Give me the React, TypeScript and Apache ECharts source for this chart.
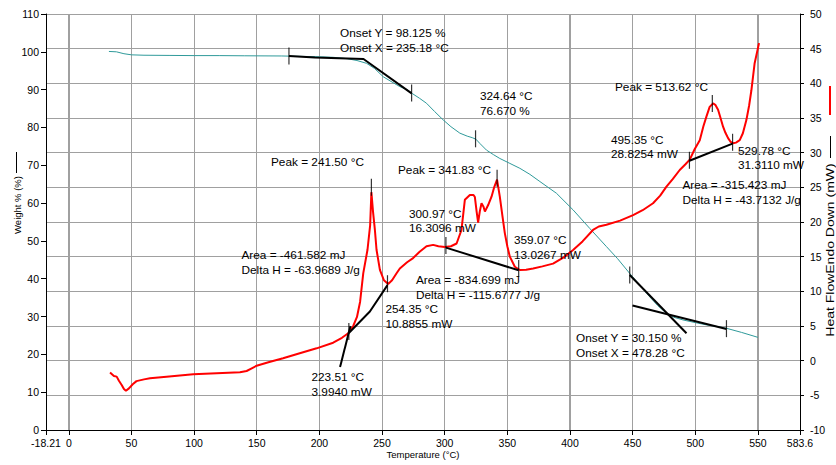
import React, { useEffect, useRef } from "react";
import * as echarts from "echarts";

// Axis settings
const xMin = -18.21;
const xMax = 583.6;
const xGridValues = [0, 50, 100, 150, 200, 250, 300, 350, 400, 450, 500, 550];
const weightRange = [0, 110];

// TGA: temperature (°C), weight (%)
const tgaData: number[][] = [
  [32, 100.1], [38, 100.0], [44, 99.5], [50, 99.2], [60, 99.1], [80, 99.05], [100, 99.0], [120, 99.0],
  [140, 98.95], [170, 98.9], [200, 98.7], [211, 98.55], [222, 98.2], [230, 97.7], [237.7, 96.95],
  [244, 95.6], [251, 93.4], [258, 92.0], [264.2, 90.8], [270, 90.0], [274, 89.0], [280, 87.7],
  [285.5, 86.4], [292, 84.2], [298.8, 82.0], [305, 80.2], [312.1, 78.5], [318, 77.7], [322, 77.3],
  [324.9, 76.9], [328, 75.8], [333.4, 74.0], [339, 72.8], [344, 71.8], [352, 70.5], [360, 69.2],
  [368, 67.6], [376, 65.7], [389.2, 62.6], [402.5, 58.2], [415.8, 53.3], [429.1, 48.5], [438, 45.3],
  [447.7, 41.4], [456, 38.2], [463.7, 35.2], [470, 32.9], [477, 30.85], [483, 29.8], [490.2, 29.1],
  [500, 28.4], [508.9, 27.8], [517, 27.4], [524.9, 26.9], [537, 25.8], [550, 24.5],
];

// DSC: temperature (°C), heat flow (mW)
const dscData: number[][] = [
  [32.9, -1.7], [36, -2.2], [38.2, -2.3], [40, -2.9], [42.2, -3.5], [44, -4.1], [45.6, -4.35], [48, -4.0],
  [51, -3.4], [54, -2.95], [60, -2.7], [64.8, -2.54], [78, -2.31], [99.3, -1.97], [118, -1.82],
  [136.6, -1.68], [141.9, -1.49], [146, -1.1], [149.9, -0.73], [160, -0.2], [171, 0.34], [185, 1.1],
  [197.8, 1.78], [211, 2.59], [218, 3.3], [223, 3.95], [227, 5.0], [230, 6.3], [232.5, 8.5],
  [235, 12.6], [238.4, 16], [240.5, 19.5], [241.5, 24.3], [242.8, 21.5], [244.3, 18.85], [245.6, 16],
  [248.3, 13.1], [251.5, 11.6], [254.9, 11.06], [258, 11.6], [261.6, 12.6], [264.2, 13.3], [270, 14.2],
  [274.8, 14.8], [280, 15.7], [285.5, 16.5], [290.8, 16.7], [295, 16.5], [300.1, 16.4], [305, 16.5],
  [309.5, 16.9], [313.4, 18.85], [316.1, 23.2], [320.1, 23.9], [323, 23.9], [324.1, 23.6],
  [325.5, 21.5], [326.7, 19.9], [328, 21.5], [329.4, 22.7], [331, 22.2], [332.1, 21.5], [334.7, 22.45],
  [337.4, 23.65], [339.5, 25], [341.8, 26.1], [344, 23.65], [346, 21], [348, 18.4], [350, 16.5],
  [352, 15], [356, 13.55], [360, 13.08], [365, 13.1], [370.6, 13.3], [378, 13.6], [386.5, 14.0],
  [395, 14.9], [402.5, 15.96], [410, 17.2], [418.4, 18.85], [423, 19.35], [429.1, 19.6], [440, 20.2],
  [450.4, 21.0], [458, 21.7], [466.3, 22.7], [472, 23.8], [477, 25.1], [482, 26.2], [487.6, 27.5],
  [492, 28.3], [495.6, 29.0], [499.5, 30.5], [503.6, 31.8], [506.5, 33.8], [508.9, 35.2], [511.5, 36.6],
  [514.2, 37.1], [516, 36.9], [518.2, 36.2], [520, 35.1], [522.2, 33.75], [524, 32.9], [526.2, 32.1],
  [528, 31.6], [530.1, 31.35], [532.5, 31.45], [535.5, 31.8], [538, 32.8], [540.8, 34.7], [543, 36.8],
  [544.8, 39.0], [547.4, 42.9], [550.9, 45.8],
];

// Analysis constructions (data coordinates)
const tgaOnset1 = [[175.7, 98.9], [196.4, 98.5], [235.2, 98.1], [273.6, 89.0]];
const tgaOnset2A = [[447.7, 41.0], [493.0, 25.6]];
const tgaOnset2B = [[449.9, 32.9], [524.9, 26.7]];
const dscTangent1 = [[216.5, -0.9], [224.8, 5.0]];
const dscBase1 = [[223.51, 3.99], [240.3, 7.1], [254.35, 10.89]];
const dscBase2 = [[300.97, 16.31], [359.07, 13.03]];
const dscBase3 = [[495.35, 28.83], [529.78, 31.31]];
const tgaTicks = [[175.7, 98.9], [273.6, 89.1], [324.64, 77.0], [447.7, 41.0], [524.9, 26.8]];
const dscTicks = [
  [223.51, 4.2], [254.35, 11.1], [241.5, 25.0], [300.97, 16.6], [359.07, 13.3],
  [341.83, 26.3], [495.35, 28.9], [529.78, 31.5], [513.62, 37.1],
];

// Annotation texts
const annotationTexts: string[][] = [
  ["Onset Y = 98.125 %", "Onset X = 235.18 °C"],
  ["324.64 °C", "76.670 %"],
  ["Peak = 341.83 °C"],
  ["300.97 °C", "16.3096 mW"],
  ["359.07 °C", "13.0267 mW"],
  ["Area = -834.699 mJ", "Delta H = -115.6777 J/g"],
  ["Peak = 241.50 °C"],
  ["Area = -461.582 mJ", "Delta H = -63.9689 J/g"],
  ["254.35 °C", "10.8855 mW"],
  ["223.51 °C", "3.9940 mW"],
  ["Peak = 513.62 °C"],
  ["495.35 °C", "28.8254 mW"],
  ["529.78 °C", "31.3110 mW"],
  ["Area = -315.423 mJ", "Delta H = -43.7132 J/g"],
  ["Onset Y = 30.150 %", "Onset X = 478.28 °C"],
];
// Layout (pixel) of each annotation: left x, centre y of first line
const annotationLayout: number[][] = [
  [340, 33], [480, 96], [398, 170], [409, 213.5], [514, 240], [416, 280], [271, 162],
  [241.5, 255], [385.5, 309], [311.5, 377], [615, 87], [611, 139.5], [738, 150.5],
  [682.5, 185], [576, 338],
];

const FONT = '"Liberation Sans", Arial, Helvetica, sans-serif';
const GRID_COLOR = "#a0a0a0";

function blackLine(data: number[][], yAxisIndex: number) {
  return {
    type: "line",
    yAxisIndex,
    data,
    symbol: "none",
    z: 6,
    silent: true,
    lineStyle: { color: "#000", width: 2 },
  };
}

function toNum(v: any): number {
  if (Array.isArray(v)) return Number(v[0]);
  return Number(v);
}

export default function App() {
  const ref = useRef<HTMLDivElement>(null);
  useEffect(() => {
    const chart = echarts.init(ref.current!, null, { renderer: "svg" });
    const labelStyle = { color: "#000", fontSize: 10.5, fontFamily: FONT };
    const staticGraphic: any[] = [
      ...annotationTexts.map((lines, i) => ({
        type: "text",
        x: annotationLayout[i][0],
        y: annotationLayout[i][1] - 7.25,
        z: 10,
        silent: true,
        style: {
          text: lines.join("\n"),
          fill: "#000",
          fontSize: 11.8,
          fontFamily: FONT,
          lineHeight: 14.5,
          align: "left",
          verticalAlign: "top",
        },
      })),
      {
        type: "text",
        x: 17,
        y: 205,
        rotation: Math.PI / 2,
        silent: true,
        style: {
          text: "Weight % (%)",
          fill: "#000",
          fontSize: 9.5,
          fontFamily: FONT,
          align: "center",
          verticalAlign: "middle",
        },
      },
      {
        type: "line",
        silent: true,
        shape: { x1: 16.5, y1: 152, x2: 16.5, y2: 173 },
        style: { stroke: "#000", lineWidth: 1 },
      },
      {
        type: "text",
        x: 831,
        y: 250,
        rotation: Math.PI / 2,
        scaleX: 1.4,
        silent: true,
        style: {
          text: "Heat FlowEndo Down (mW)",
          fill: "#000",
          fontSize: 10,
          fontFamily: FONT,
          align: "center",
          verticalAlign: "middle",
        },
      },
      {
        type: "line",
        silent: true,
        shape: { x1: 830.5, y1: 136, x2: 830.5, y2: 158 },
        style: { stroke: "#000", lineWidth: 1 },
      },
      {
        type: "line",
        silent: true,
        shape: { x1: 830, y1: 86, x2: 830, y2: 115 },
        style: { stroke: "#ff0000", lineWidth: 2 },
      },
      {
        type: "text",
        x: 423,
        y: 454,
        silent: true,
        style: {
          text: "Temperature (°C)",
          fill: "#000",
          fontSize: 9.5,
          fontFamily: FONT,
          align: "center",
          verticalAlign: "middle",
        },
      },
    ];
    const option: any = {
      animation: false,
      backgroundColor: "#fff",
      grid: { left: 46, right: 36, top: 14, bottom: 35, containLabel: false },
      xAxis: {
        type: "value",
        min: xMin,
        max: xMax,
        splitNumber: 12,
        axisLine: { onZero: false, lineStyle: { color: "#000", width: 1 } },
        axisTick: { show: true, length: 5, lineStyle: { color: "#000" } },
        axisLabel: { ...labelStyle, margin: 7, showMinLabel: true, showMaxLabel: true },
        splitLine: { show: true, lineStyle: { color: GRID_COLOR, width: 1, type: "solid" } },
      },
      yAxis: [
        {
          type: "value",
          min: 0,
          max: 110,
          interval: 10,
          position: "left",
          axisLine: { show: true, onZero: false, lineStyle: { color: "#000" } },
          axisTick: { show: true, length: 5, lineStyle: { color: "#000" } },
          axisLabel: { ...labelStyle, margin: 7 },
          splitLine: { show: false },
        },
        {
          type: "value",
          min: -10,
          max: 50,
          interval: 5,
          position: "right",
          axisLine: { show: true, onZero: false, lineStyle: { color: "#000" } },
          axisTick: { show: true, length: 4, lineStyle: { color: "#000" } },
          axisLabel: { ...labelStyle, margin: 10 },
          splitLine: { show: true, lineStyle: { color: GRID_COLOR, width: 1 } },
        },
      ],
      series: [
        {
          type: "line",
          name: "Weight %",
          yAxisIndex: 0,
          data: tgaData,
          symbol: "none",
          z: 4,
          lineStyle: { color: "#2f9a9a", width: 1 },
        },
        {
          type: "line",
          name: "Heat Flow",
          yAxisIndex: 1,
          data: dscData,
          symbol: "none",
          z: 5,
          lineStyle: { color: "#ff0000", width: 2 },
        },
        blackLine(tgaOnset1, 0),
        blackLine(tgaOnset2A, 0),
        blackLine(tgaOnset2B, 0),
        blackLine(dscTangent1, 1),
        blackLine(dscBase1, 1),
        blackLine(dscBase2, 1),
        blackLine(dscBase3, 1),
        {
          type: "scatter",
          yAxisIndex: 0,
          data: tgaTicks,
          symbol: "rect",
          symbolSize: [1.2, 17],
          itemStyle: { color: "#000" },
          z: 7,
          silent: true,
        },
        {
          type: "scatter",
          yAxisIndex: 1,
          data: dscTicks,
          symbol: "rect",
          symbolSize: [1.2, 17],
          itemStyle: { color: "#000" },
          z: 7,
          silent: true,
        },
      ],
      graphic: staticGraphic,
    };
    chart.setOption(option);

    // Backup vertical grid lines placed through the chart's own scales
    const yTop = toNum(chart.convertToPixel({ yAxisIndex: 0 } as any, weightRange[1]));
    const yBottom = toNum(chart.convertToPixel({ yAxisIndex: 0 } as any, weightRange[0]));
    const gridLines: any[] = [];
    xGridValues.forEach((v) => {
      const raw = toNum(chart.convertToPixel({ xAxisIndex: 0 } as any, v));
      if (isFinite(raw) && isFinite(yTop) && isFinite(yBottom)) {
        const px = Math.round(raw - 0.5) + 0.5;
        gridLines.push({
          type: "rect",
          silent: true,
          z: 0,
          shape: { x: px - 0.5, y: Math.min(yTop, yBottom), width: 1, height: Math.abs(yBottom - yTop) },
          style: { fill: GRID_COLOR },
        });
      }
    });
    if (gridLines.length) {
      option.graphic = [...gridLines, ...staticGraphic];
      chart.setOption(option, true);
    }
    return () => chart.dispose();
  }, []);
  return (
    <div
      ref={ref}
      style={{ position: "fixed", left: 0, top: 0, width: 836, height: 465, background: "#fff" }}
    />
  );
}
